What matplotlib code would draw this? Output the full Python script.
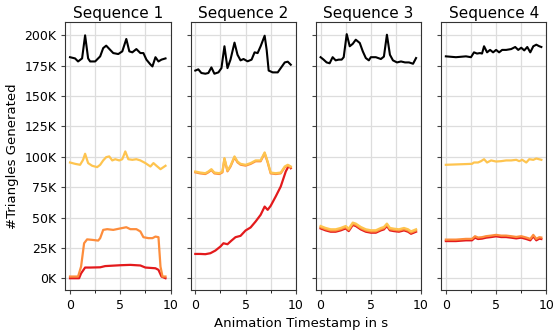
import matplotlib
matplotlib.use("Agg")
import matplotlib.pyplot as plt
from matplotlib.ticker import FuncFormatter, MultipleLocator

titles = ["Sequence 1", "Sequence 2", "Sequence 3", "Sequence 4"]
colors = ["#000000", "#fec44f", "#fd8d3c", "#e31a1c"]

# sequence 1
s1_t_black = [0, 0.5, 0.8, 1.2, 1.5, 1.8, 2.0, 2.5, 3.0, 3.3, 3.6, 4.0, 4.3, 4.8, 5.2, 5.6, 5.9, 6.2, 6.6, 7.0, 7.3, 7.6, 8.0, 8.2, 8.5, 8.8, 9.1, 9.5]
s1_black = [182, 181, 178.5, 181, 200, 181, 178.5, 178.5, 182.7, 189.5, 191.5, 188, 185.4, 184.6, 186.8, 197, 186.8, 186, 188.7, 185.4, 185.4, 180, 176, 174.4, 182, 178.5, 180, 181]
s1_t_yellow = [0, 0.5, 1.0, 1.3, 1.5, 1.8, 2.2, 2.7, 3.0, 3.3, 3.6, 3.9, 4.2, 4.5, 4.9, 5.2, 5.5, 5.8, 6.2, 6.6, 7.0, 7.5, 8.0, 8.3, 8.6, 9.0, 9.5]
s1_yellow = [95.3, 94.2, 93.4, 97.5, 102.5, 94.8, 92.6, 91.5, 93.4, 97, 99.7, 100.3, 97, 98, 97, 98, 104.4, 98, 97.5, 98, 97, 94.8, 92, 94.8, 92.6, 89.8, 92.6]
s1_t_orange = [0, 0.8, 1.1, 1.4, 1.7, 2.2, 2.8, 3.0, 3.3, 3.7, 4.3, 5.0, 5.6, 6.0, 6.6, 7.0, 7.3, 7.8, 8.2, 8.5, 8.8, 9.0, 9.2, 9.5]
s1_orange = [1.4, 1.4, 9.6, 28.8, 32, 31.6, 31, 33, 39.8, 40.4, 39.8, 41, 42, 40.4, 40.4, 38.5, 33.8, 33, 33, 34.3, 33.8, 9.6, 1.4, 1.4]
s1_t_red = [0, 0.9, 1.1, 1.5, 2.0, 3.0, 3.5, 5.0, 6.0, 7.0, 7.5, 8.5, 8.8, 9.1, 9.5]
s1_red = [0, 0, 4, 8.8, 8.8, 9, 10, 10.7, 11, 10.5, 8.8, 8.2, 6.9, 1.4, 0]

# sequence 2
s2_t_black = [0, 0.3, 0.6, 1.0, 1.3, 1.6, 1.9, 2.3, 2.6, 2.9, 3.2, 3.5, 3.9, 4.2, 4.5, 4.8, 5.2, 5.6, 5.9, 6.2, 6.5, 6.9, 7.1, 7.3, 7.7, 8.2, 8.5, 8.9, 9.2, 9.5]
s2_black = [171, 172, 169, 168.4, 169, 173.6, 168.4, 169.5, 173, 191, 173, 180, 194, 184, 179.4, 180.5, 178.6, 180, 186, 185.4, 191, 199.7, 188, 171, 169.5, 169.5, 173, 177.7, 178.3, 175.8]
s2_t_yellow = [0, 0.5, 1.0, 1.3, 1.6, 1.9, 2.4, 2.7, 2.9, 3.2, 3.5, 3.9, 4.2, 4.5, 5.0, 5.5, 6.0, 6.5, 6.9, 7.2, 7.5, 8.0, 8.5, 8.9, 9.2, 9.5]
s2_yellow = [87.9, 87, 86.5, 87.9, 89.8, 87, 86.5, 87.9, 98.9, 88.7, 92.6, 100.3, 96.1, 94.2, 93.4, 94.8, 97, 97, 103.6, 96, 87, 86.5, 87, 92, 93.4, 92]
s2_orange = [87.2, 86.3, 85.8, 87.2, 89.1, 86.3, 85.8, 87.2, 98.2, 88, 91.9, 99.6, 95.4, 93.5, 92.7, 94.1, 96.3, 96.3, 102.9, 95.3, 86.3, 85.8, 86.3, 91.3, 92.7, 91.3]
s2_t_red = [0, 0.5, 1.0, 1.5, 2.0, 2.5, 2.8, 3.2, 3.6, 4.0, 4.5, 5.0, 5.5, 6.0, 6.5, 6.9, 7.2, 7.5, 8.0, 8.5, 9.0, 9.3, 9.5]
s2_red = [20, 20, 19.8, 20.6, 22.8, 26.1, 28.8, 28, 31, 33.8, 34.9, 39.3, 41.8, 46.7, 52.2, 59, 56.3, 59.6, 67.3, 75.5, 87.9, 92.6, 90.6]

# sequence 3
s3_t_black = [0, 0.3, 0.6, 0.9, 1.2, 1.5, 1.8, 2.1, 2.3, 2.6, 2.9, 3.2, 3.5, 3.9, 4.2, 4.5, 4.8, 5.0, 5.5, 6.0, 6.3, 6.6, 6.9, 7.2, 7.6, 8.0, 8.4, 8.8, 9.2, 9.5]
s3_black = [182, 180, 177.7, 177, 182, 179.4, 180, 180, 182, 201, 191, 193, 196.4, 193.7, 186.8, 181.3, 179.4, 182, 182, 180.5, 182.5, 200.5, 184, 179.4, 177.7, 178.5, 177.7, 177.7, 176.6, 181.3]
s3_t_mid = [0, 0.5, 1.0, 1.5, 2.0, 2.5, 2.8, 3.2, 3.5, 4.0, 4.5, 5.0, 5.5, 6.0, 6.3, 6.6, 6.9, 7.3, 7.8, 8.3, 8.7, 9.0, 9.5]
s3_yellow = [43, 41.4, 40.3, 40.3, 41.4, 43, 40.8, 45.8, 45, 42.2, 40.3, 39.5, 39.5, 41.4, 42.2, 45, 41.4, 40.8, 40.3, 41.4, 40.3, 38.6, 40.3]
s3_orange = [42, 40.4, 39.3, 39.3, 40.4, 42, 39.8, 44.8, 44, 41.2, 39.3, 38.5, 38.5, 40.4, 41.2, 44, 40.4, 39.8, 39.3, 40.4, 39.3, 37.6, 39.3]
s3_red = [41, 39.4, 38.3, 38.3, 39.4, 41, 38.8, 43.8, 43, 40.2, 38.3, 37.5, 37.5, 39.4, 40.2, 43, 39.4, 38.8, 38.3, 39.4, 38.3, 36.6, 38.3]

# sequence 4
s4_t_black = [0, 1.0, 2.0, 2.5, 2.8, 3.1, 3.4, 3.6, 3.8, 4.1, 4.4, 4.7, 5.0, 5.3, 5.6, 6.0, 6.5, 6.9, 7.2, 7.5, 7.8, 8.1, 8.4, 8.7, 9.0, 9.3, 9.5]
s4_black = [182.7, 182, 182.7, 182, 186, 185, 185.4, 185, 191, 186, 188, 186, 188, 186, 188, 188, 188.7, 190.4, 188, 189.8, 187.6, 190.4, 186, 191, 192.3, 191, 190.4]
s4_t_yellow = [0, 1.0, 2.0, 2.6, 2.8, 3.2, 3.5, 3.8, 4.1, 4.5, 5.0, 5.5, 6.0, 6.5, 7.0, 7.3, 7.6, 8.0, 8.3, 8.7, 9.0, 9.5]
s4_yellow = [93.4, 93.7, 94, 94.2, 95.3, 95.3, 96.4, 98, 95.3, 97, 96.1, 96.4, 97, 97, 97.5, 96.4, 97.5, 95.3, 98, 97.5, 98.6, 97.5]
s4_t_low = [0, 1.0, 2.0, 2.6, 2.9, 3.2, 3.6, 4.0, 4.5, 5.0, 5.5, 6.0, 6.5, 7.0, 7.5, 8.0, 8.4, 8.7, 9.0, 9.3, 9.5]
s4_orange = [31.8, 31.8, 32.4, 32.4, 34.6, 33.5, 33.8, 34.6, 35.1, 35.7, 35.1, 35.1, 34.6, 34, 34.6, 33.5, 32.4, 35.7, 32.4, 33.8, 33.5]
s4_red = [30.6, 30.6, 31.2, 31.2, 33.4, 32.3, 32.6, 33.4, 33.9, 34.5, 33.9, 33.9, 33.4, 32.8, 33.4, 32.3, 31.2, 34.5, 31.2, 32.6, 32.3]

panels = [
    [(s1_t_black, s1_black), (s1_t_yellow, s1_yellow), (s1_t_orange, s1_orange), (s1_t_red, s1_red)],
    [(s2_t_black, s2_black), (s2_t_yellow, s2_yellow), (s2_t_yellow, s2_orange), (s2_t_red, s2_red)],
    [(s3_t_black, s3_black), (s3_t_mid, s3_yellow), (s3_t_mid, s3_orange), (s3_t_mid, s3_red)],
    [(s4_t_black, s4_black), (s4_t_yellow, s4_yellow), (s4_t_low, s4_orange), (s4_t_low, s4_red)],
]

fig, axes = plt.subplots(1, 4, figsize=(5.53, 3.33), dpi=100, sharey=True)
fig.subplots_adjust(left=0.118, right=0.988, top=0.934, bottom=0.128, wspace=0.19)

for ax, title, series in zip(axes, titles, panels):
    # draw red first so the lighter lines sit on top
    for i in [3, 2, 1, 0]:
        t, v = series[i]
        ax.plot(t, [x * 1000 for x in v], color=colors[i], lw=1.6 if i else 1.5, zorder=3 + (3 - i))
    ax.set_title(title, fontsize=11, pad=3)
    ax.set_xlim(-0.475, 9.975)
    ax.set_xticks([0, 5, 10])
    ax.xaxis.set_minor_locator(MultipleLocator(2.5))
    ax.grid(True, which="both", color="#dddddd", lw=0.9)
    ax.set_axisbelow(True)
    ax.tick_params(labelsize=9, length=3, color="#444444")
    ax.tick_params(which="minor", length=2)
    for sp in ax.spines.values():
        sp.set_color("#333333")

axes[0].set_ylim(-10000, 211000)
axes[0].yaxis.set_major_locator(MultipleLocator(25000))
axes[0].yaxis.set_major_formatter(FuncFormatter(lambda v, p: "%dK" % round(v / 1000)))
axes[0].set_ylabel("#Triangles Generated", fontsize=9.5)
fig.text(0.545, 0.01, "Animation Timestamp in s", ha="center", va="bottom", fontsize=9.5)

fig.savefig("out.png", dpi=100)
